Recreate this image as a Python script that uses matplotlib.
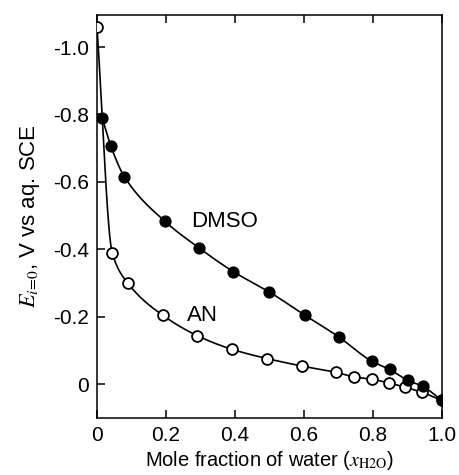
import numpy as np
import matplotlib
matplotlib.use("Agg")
import matplotlib.pyplot as plt


# ===================== Data =====================
an_x = [0.0, 0.044, 0.09, 0.19, 0.291, 0.39, 0.494, 0.594, 0.694, 0.745,
        0.796, 0.846, 0.894, 0.942, 1.0]
an_e = [-1.06, -0.39, -0.299, -0.205, -0.144, -0.104, -0.076, -0.054, -0.035,
        -0.022, -0.015, -0.004, 0.009, 0.024, 0.048]

dmso_x = [0.015, 0.040, 0.079, 0.197, 0.296, 0.395, 0.499, 0.602, 0.70,
          0.797, 0.848, 0.90, 0.944, 1.0]
dmso_e = [-0.789, -0.707, -0.616, -0.483, -0.404, -0.334, -0.274, -0.205,
          -0.141, -0.068, -0.044, -0.012, 0.006, 0.048]

x_ticks = [0, 0.2, 0.4, 0.6, 0.8, 1.0]
x_labels = ["0", "0.2", "0.4", "0.6", "0.8", "1.0"]
y_ticks = [-1.0, -0.8, -0.6, -0.4, -0.2, 0]
y_labels = ["-1.0", "-0.8", "-0.6", "-0.4", "-0.2", "0"]


def pchip(x, y, n=300):
    # monotone cubic through the measured points, only for drawing the line
    x = np.asarray(x, float)
    y = np.asarray(y, float)
    h = np.diff(x)
    d = np.diff(y) / h
    m = np.zeros_like(y)
    for k in range(1, len(x) - 1):
        if d[k - 1] * d[k] > 0:
            w1 = 2 * h[k] + h[k - 1]
            w2 = h[k] + 2 * h[k - 1]
            m[k] = (w1 + w2) / (w1 / d[k - 1] + w2 / d[k])
    m[0] = d[0]
    m[-1] = d[-1]
    xs = np.linspace(x[0], x[-1], n)
    idx = np.clip(np.searchsorted(x, xs) - 1, 0, len(h) - 1)
    t = (xs - x[idx]) / h[idx]
    h00 = 2 * t**3 - 3 * t**2 + 1
    h10 = t**3 - 2 * t**2 + t
    h01 = -2 * t**3 + 3 * t**2
    h11 = t**3 - t**2
    ys = (h00 * y[idx] + h10 * h[idx] * m[idx]
          + h01 * y[idx + 1] + h11 * h[idx] * m[idx + 1])
    return xs, ys


# ===================== Plot =====================
plt.rcParams["font.family"] = ["Liberation Sans", "DejaVu Sans"]
plt.rcParams["mathtext.fontset"] = "stix"

fig = plt.figure(figsize=(4.59, 4.75), dpi=100)
ax = fig.add_axes([97 / 459, 1 - 418 / 475, 345 / 459, 403 / 475])

xs, ys = pchip(an_x, an_e)
ax.plot(xs, ys, color="black", lw=1.2, zorder=2)
xs, ys = pchip(dmso_x, dmso_e)
ax.plot(xs, ys, color="black", lw=1.2, zorder=2)

ax.plot(an_x, an_e, linestyle="none", marker="o", ms=7.8,
        mfc="white", mec="black", mew=1.3, zorder=3)
ax.plot(dmso_x, dmso_e, linestyle="none", marker="o", ms=7.8,
        mfc="black", mec="black", mew=1.0, zorder=4)

ax.text(0.274, -0.483, "DMSO", fontsize=16, va="center", ha="left")
ax.text(0.262, -0.205, "AN", fontsize=16, va="center", ha="left")

ax.set_xlim(0, 1.0)
ax.set_ylim(0.1, -1.095)

ax.set_xticks(x_ticks)
ax.set_xticklabels(x_labels)
ax.set_yticks(y_ticks)
ax.set_yticklabels(y_labels)
ax.tick_params(direction="in", length=6, width=1.1, labelsize=15,
               top=True, right=False, pad=6)

for sp in ax.spines.values():
    sp.set_linewidth(1.1)

ax.set_xlabel(r"Mole fraction of water ($x_{\mathrm{H2O}}$)", fontsize=14.5,
              labelpad=3)
ax.set_ylabel(r"$E_{i\!=\!0}$, V vs aq. SCE", fontsize=16, labelpad=8)

fig.savefig("out.png", dpi=100)
